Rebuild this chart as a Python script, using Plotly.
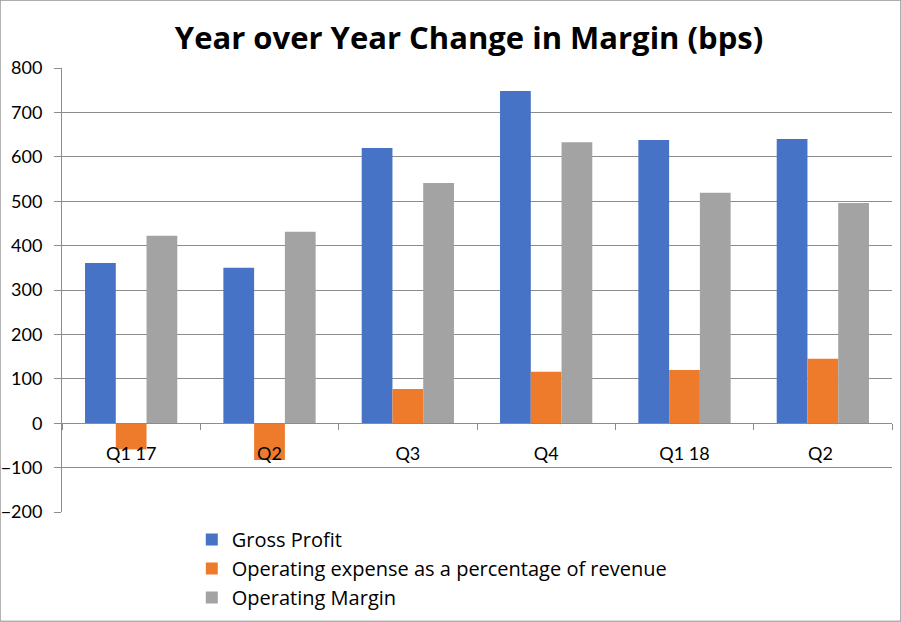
import plotly.graph_objects as go

categories = ["Q1 17", "Q2", "Q3", "Q4", "Q1 18", "Q2 "]
gross_profit = [361, 350, 620, 748, 638, 640]
opex_pct_revenue = [-59, -83, 77, 116, 120, 145]
operating_margin = [422, 431, 541, 633, 519, 496]
y_ticks = [-200, -100, 0, 100, 200, 300, 400, 500, 600, 700, 800]

W, H = 901, 622
L, R, T, B = 62.3, 9.3, 68.3, 109.7
pw, ph = W - L - R, H - T - B

FONT = "Lato"
GRID = "#8c8c8c"

fig = go.Figure()
fig.add_trace(go.Bar(name="Gross Profit", x=categories, y=gross_profit,
                     marker=dict(color="#4673C5", line=dict(width=0))))
fig.add_trace(go.Bar(name="Operating expense as a percentage of revenue", x=categories,
                     y=opex_pct_revenue, marker=dict(color="#EE7B2C", line=dict(width=0))))
fig.add_trace(go.Bar(name="Operating Margin", x=categories, y=operating_margin,
                     marker=dict(color="#A3A3A3", line=dict(width=0))))

fig.update_layout(
    width=W, height=H,
    margin=dict(l=L, r=R, t=T, b=B, pad=0, autoexpand=False),
    paper_bgcolor="white", plot_bgcolor="white",
    barmode="group", bargap=0.333, bargroupgap=0,
    font=dict(family=FONT, color="black", size=18),
    title=dict(text="<b>Year over Year Change in Margin (bps)</b>",
               x=469 / W, xanchor="center", xref="container",
               y=1 - 38 / H, yanchor="middle", yref="container",
               font=dict(family="Open Sans", size=31, color="black")),
    legend=dict(x=(192 - L) / pw, xanchor="left", y=-0.018, yanchor="top",
                orientation="v", font=dict(family="Open Sans", size=20, color="black"),
                bgcolor="rgba(0,0,0,0)", itemclick=False),
    xaxis=dict(type="category", anchor="free", position=0.2, automargin=False,
               showline=True, linecolor=GRID, linewidth=1,
               ticks="outside", tickson="boundaries", ticklen=6, tickcolor=GRID,
               showgrid=False, tickfont=dict(size=18), ticklabelstandoff=14),
    yaxis=dict(range=[-200, 800], tickvals=y_ticks, automargin=False,
               showline=True, linecolor=GRID,
               linewidth=1, ticks="outside", ticklen=7, tickcolor=GRID,
               showgrid=True, gridcolor=GRID, gridwidth=1, zeroline=False,
               tickfont=dict(size=18), ticklabelstandoff=8),
)

# outer frame around the whole picture
fig.add_shape(type="rect", xref="paper", yref="paper",
              x0=-(L - 0.5) / pw, x1=1 + (R - 0.5) / pw,
              y0=-(B - 0.5) / ph, y1=1 + (T - 0.5) / ph,
              line=dict(color="#8a8a8a", width=1), layer="above")

fig.write_html("out.html", config={"displayModeBar": False},
               post_script="document.body.style.margin='0';")
